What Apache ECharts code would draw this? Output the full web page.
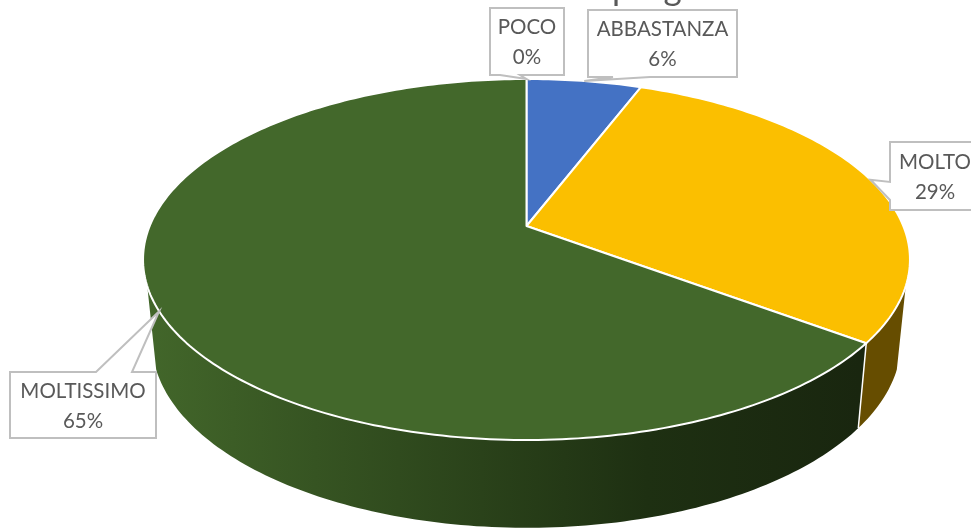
<!DOCTYPE html>
<html>
<head>
<meta charset="utf-8">
<title>Pie 3D</title>
<script src="https://cdn.jsdelivr.net/npm/echarts@6/dist/echarts.min.js"></script>
<style>
  html, body { margin: 0; padding: 0; background: #fff; overflow: hidden; }
  #chart { width: 971px; height: 528px; }
</style>
</head>
<body>
<div id="chart"></div>
<script>
// dati
const categories = ['POCO', 'ABBASTANZA', 'MOLTO', 'MOLTISSIMO'];
const values = [0, 5.8, 29.4, 64.8];
const titleText = 'programma'; // solo i discendenti restano visibili in alto

// stile
const topColors = ['#ED7D31', '#4472C4', '#FBBF00', '#43682B'];
const labelBoxes = [
  { box: [490, 8, 74, 67], edge: 'bottom', base: [500, 520] },
  { box: [588, 10, 149, 67], edge: 'bottom', base: [613, 650] },
  { box: [890, 142, 90, 68], edge: 'left', base: [182, 200] },
  { box: [10, 372, 146, 66], edge: 'top', base: [96, 132] }
];

// proiezione prospettica del disco: faccia superiore e base
const cx = 526.5;
const k = 0.1856;
const topPlane = { y0: 226, a: 376.8, b: 174.3 };
const basePlane = { y0: 307.4, a: 368, b: 179.5 };
const wallFrom = 109;
const wallTo = 251;

function project(plane, deg) {
  const t = deg * Math.PI / 180;
  const u = Math.sin(t);
  const v = -Math.cos(t);
  const d = 1 - k * v;
  return [cx + plane.a * u / d, plane.y0 + plane.b * v / d];
}

function arc(plane, from, to) {
  const pts = [];
  const n = Math.max(2, Math.ceil(Math.abs(to - from)));
  for (let i = 0; i <= n; i++) {
    pts.push(project(plane, from + (to - from) * i / n));
  }
  return pts;
}

const total = values.reduce((a, b) => a + b, 0);
function sliceAngles(i) {
  let before = 0;
  for (let j = 0; j < i; j++) before += values[j];
  return [before / total * 360, (before + values[i]) / total * 360];
}

function wallFill(i) {
  if (i === 3) {
    return new echarts.graphic.LinearGradient(150, 0, 860, 0, [
      { offset: 0, color: '#42662A' },
      { offset: 0.35, color: '#304B1E' },
      { offset: 0.7, color: '#1E3012' },
      { offset: 1, color: '#19260F' }
    ], true);
  }
  return i === 2 ? '#664D00' : topColors[i];
}

function renderWall(params, api) {
  const i = params.dataIndex;
  if (!api.value(0)) return null;
  const [a0, a1] = sliceAngles(i);
  const from = Math.max(a0, wallFrom);
  const to = Math.min(a1, wallTo);
  if (from >= to) return null;
  const points = arc(topPlane, from, to).concat(arc(basePlane, to, from));
  return {
    type: 'polygon',
    shape: { points },
    style: { fill: wallFill(i), stroke: null }
  };
}

function renderFace(params, api) {
  const i = params.dataIndex;
  if (!api.value(0)) return null;
  const [a0, a1] = sliceAngles(i);
  const points = [[cx, topPlane.y0]].concat(arc(topPlane, a0, a1));
  const children = [{
    type: 'polygon',
    shape: { points },
    style: { fill: topColors[i], stroke: '#fff', lineWidth: 2, lineJoin: 'round' }
  }];
  // spigolo bianco tra i due fianchi
  if (a0 > wallFrom && a0 < wallTo) {
    const p = project(topPlane, a0);
    const q = project(basePlane, a0);
    children.unshift({
      type: 'line',
      shape: { x1: p[0], y1: p[1], x2: q[0], y2: q[1] },
      style: { stroke: '#fff', lineWidth: 1.5 }
    });
  }
  return { type: 'group', children };
}

function calloutPoints(conf, tip) {
  const [x, y, w, h] = conf.box;
  const [b1, b2] = conf.base;
  if (conf.edge === 'bottom') {
    return [[x, y], [x + w, y], [x + w, y + h], [b2, y + h], tip, [b1, y + h], [x, y + h]];
  }
  if (conf.edge === 'top') {
    return [[x, y], [b1, y], tip, [b2, y], [x + w, y], [x + w, y + h], [x, y + h]];
  }
  return [[x, y], [x + w, y], [x + w, y + h], [x, y + h], [x, b2], tip, [x, b1]];
}

function renderLabel(params, api) {
  const i = params.dataIndex;
  const [a0, a1] = sliceAngles(i);
  const conf = labelBoxes[i];
  const tip = project(topPlane, (a0 + a1) / 2);
  const [x, y, w, h] = conf.box;
  return {
    type: 'group',
    children: [
      {
        type: 'polygon',
        shape: { points: calloutPoints(conf, tip) },
        style: { fill: '#fff', stroke: '#BFBFBF', lineWidth: 2 }
      },
      {
        type: 'text',
        style: {
          x: x + w / 2,
          y: y + h / 2 + 1,
          text: categories[i] + '\n' + Math.round(api.value(0) / total * 100) + '%',
          align: 'center',
          verticalAlign: 'middle',
          fontFamily: 'Lato',
          fontSize: 20.5,
          lineHeight: 30,
          fill: '#595959'
        }
      }
    ]
  };
}

const seriesData = values.map((v, i) => ({ name: categories[i], value: [v] }));
const chart = echarts.init(document.getElementById('chart'), null, { renderer: 'canvas' });

chart.setOption({
  animation: false,
  backgroundColor: '#fff',
  title: {
    text: titleText,
    left: 607,
    top: -34,
    textStyle: { fontFamily: 'Lato', fontSize: 35, fontWeight: 'normal', color: '#595959' }
  },
  series: [
    { type: 'custom', coordinateSystem: 'none', renderItem: renderWall, data: seriesData, z: 1, silent: true },
    { type: 'custom', coordinateSystem: 'none', renderItem: renderFace, data: seriesData, z: 2, silent: true },
    { type: 'custom', coordinateSystem: 'none', renderItem: renderLabel, data: seriesData, z: 3, silent: true }
  ]
});
</script>
</body>
</html>
